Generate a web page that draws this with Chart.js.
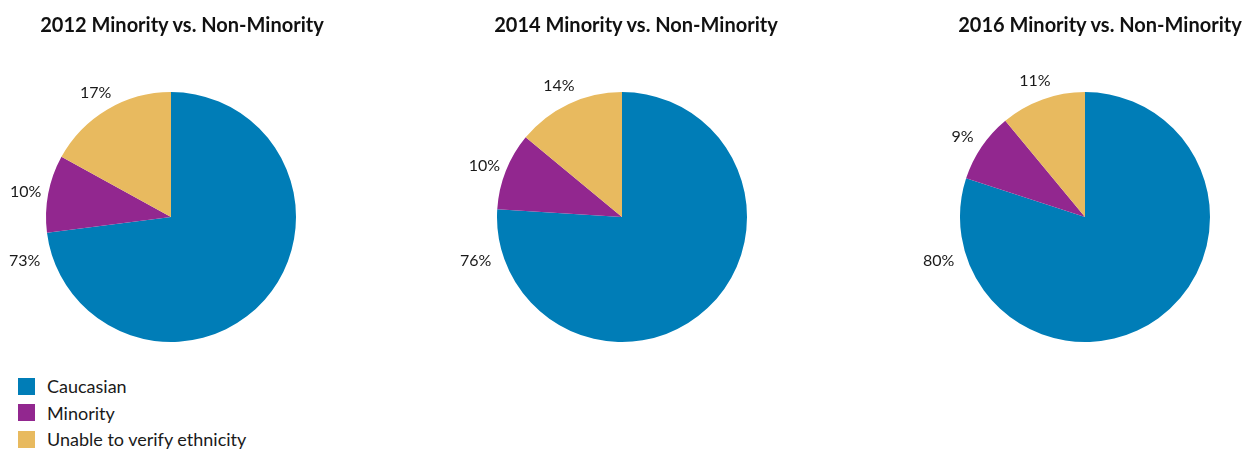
<!DOCTYPE html>
<html lang="en">
<head>
    <meta charset="UTF-8">
    <title>Minority vs. Non-Minority</title>
    <script src="https://cdn.jsdelivr.net/npm/chart.js"></script>
    <style>
        body {
            margin: 0;
            width: 1256px;
            height: 450px;
            background: #fff;
            overflow: hidden;
            position: relative;
            font-family: 'Lato', sans-serif;
            color: #1a1a1a;
        }
        .pie {
            position: absolute;
            top: 0;
            width: 364px;
            height: 360px;
        }
        .title {
            position: absolute;
            top: 12px;
            width: 364px;
            text-align: center;
            font-size: 20px;
            font-weight: bold;
            line-height: 24px;
            color: #111;
        }
        #legend {
            position: absolute;
            left: 18px;
            top: 373px;
            font-size: 18px;
        }
        .item {
            display: flex;
            align-items: center;
            height: 26.5px;
        }
        .swatch {
            width: 17px;
            height: 17px;
            margin-right: 12px;
        }
    </style>
</head>
<body>
    <div class="pie" style="left:0px"><canvas id="pie2012"></canvas></div>
    <div class="pie" style="left:454px"><canvas id="pie2014"></canvas></div>
    <div class="pie" style="left:918px"><canvas id="pie2016"></canvas></div>
    <div class="title" id="t2012" style="left:0px"></div>
    <div class="title" id="t2014" style="left:454px"></div>
    <div class="title" id="t2016" style="left:918px"></div>
    <div id="legend"></div>

    <script>
        const categories = ['Caucasian', 'Minority', 'Unable to verify ethnicity'];
        const years = ['2012', '2014', '2016'];
        const values2012 = [73, 10, 17];
        const values2014 = [76, 10, 14];
        const values2016 = [80, 9, 11];
        const colors = ['#007db7', '#92278f', '#e8ba5f'];

        // percent labels outside the pie; the first slice's label sits at lower left
        const pctLabels = {
            id: 'pctLabels',
            afterDatasetsDraw(chart) {
                const ctx = chart.ctx;
                const meta = chart.getDatasetMeta(0);
                const vals = chart.data.datasets[0].data;
                ctx.save();
                ctx.font = '16px Lato, sans-serif';
                ctx.fillStyle = '#1a1a1a';
                ctx.textAlign = 'center';
                ctx.textBaseline = 'middle';
                meta.data.forEach((arc, i) => {
                    const p = arc.getProps(['x', 'y', 'startAngle', 'endAngle', 'outerRadius'], true);
                    const a = i === 0 ? 2.87 : (p.startAngle + p.endAngle) / 2;
                    const r = p.outerRadius + (i === 0 ? 27 : 23);
                    ctx.fillText(vals[i] + '%', p.x + Math.cos(a) * r, p.y + Math.sin(a) * r + 3);
                });
                ctx.restore();
            }
        };

        function makePie(id, year, values, padLeft) {
            document.getElementById('t' + year).textContent = year + ' Minority vs. Non-Minority';
            return new Chart(document.getElementById(id), {
                type: 'pie',
                data: {
                    labels: categories,
                    datasets: [{ data: values, backgroundColor: colors, borderWidth: 0 }]
                },
                options: {
                    responsive: true,
                    maintainAspectRatio: false,
                    animation: false,
                    layout: { padding: { left: padLeft, right: 114 - padLeft, top: 92, bottom: 18 } },
                    plugins: {
                        legend: { display: false },
                        tooltip: { enabled: false }
                    }
                },
                plugins: [pctLabels]
            });
        }

        makePie('pie2012', years[0], values2012, 46);
        makePie('pie2014', years[1], values2014, 43);
        makePie('pie2016', years[2], values2016, 42);

        const legend = document.getElementById('legend');
        categories.forEach((c, i) => {
            legend.innerHTML += `<div class="item"><span class="swatch" style="background:${colors[i]}"></span>${c}</div>`;
        });
    </script>
</body>
</html>
